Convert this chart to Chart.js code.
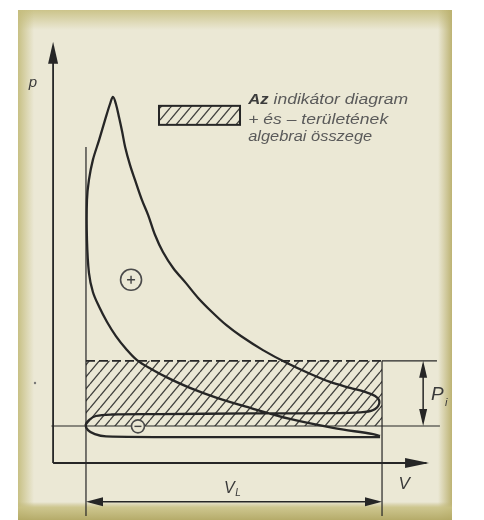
<!DOCTYPE html>
<html>
<head>
<meta charset="utf-8">
<script src="https://cdn.jsdelivr.net/npm/chart.js@4.4.1/dist/chart.umd.min.js"></script>
<style>
    html, body { margin: 0; padding: 0; background: #fff; overflow: hidden; }
</style>
</head>
<body>
<canvas id="pv-chart" width="484" height="520"></canvas>
<script>
// indicator diagram, V in % of cylinder volume (TDC = 10, BDC = 100), p in bar
// cycle order: compression -> peak -> expansion -> exhaust -> intake
const cycleV = [99.4, 97.3, 85.1, 72.0, 59.9, 49.8, 41.6, 34.9, 29.8, 25.5, 22.2, 19.1, 16.4, 14.0, 12.1, 10.9,
    10.3, 10.3, 10.9, 12.1, 14.0, 15.8, 17.3, 18.2,
    19.1, 20.1, 21.0, 21.9, 23.4, 24.9, 27.0, 28.9, 31.0, 33.4, 36.5, 40.4, 44.1, 48.3, 52.6, 57.1,
    63.8, 71.1, 78.1, 84.2, 90.3, 94.8, 97.9, 99.2, 97.9, 94.8, 87.2,
    59.9, 32.5, 17.9, 13.0, 10.9, 9.9, 10.6, 12.7, 16.1,
    44.7, 75.1, 99.4];
const cycleP = [0.73, 0.78, 0.95, 1.19, 1.49, 1.76, 2.03, 2.30, 2.54, 2.78, 3.08, 3.43, 3.81, 4.22, 4.62, 5.14,
    6.03, 7.11, 7.65, 8.19, 8.73, 9.27, 9.70, 9.89,
    9.70, 9.32, 8.95, 8.54, 8.05, 7.65, 7.11, 6.70, 6.16, 5.70, 5.27, 4.86, 4.46, 4.08, 3.73, 3.43,
    3.05, 2.70, 2.41, 2.19, 2.03, 1.92, 1.81, 1.65, 1.46, 1.38, 1.35,
    1.34, 1.32, 1.31, 1.27, 1.16, 1.03, 0.89, 0.78, 0.72,
    0.70, 0.70, 0.70];

const vTdc = 10;
const vBdc = 100;
const pAtm = 1.0;
const pMean = 2.76;

const signV = [23.7, 25.8];
const signP = [4.95, 0.99];
const signStyle = ['cross', 'line'];

const legendLines = ['Az indikátor diagram', '+ és – területének', 'algebrai összege'];
const legendWidths = [160, 140, 124];

const ink = '#262626';
const paper = '#ebe8d5';

function hatchPattern(w, h, color) {
    const c = document.createElement('canvas');
    c.width = w; c.height = h;
    const g = c.getContext('2d');
    g.strokeStyle = color;
    g.lineWidth = 1.3;
    g.beginPath();
    [-w, 0, w].forEach(off => {
        g.moveTo(off, h);
        g.lineTo(off + w, 0);
    });
    g.stroke();
    return g.createPattern(c, 'repeat');
}
const hatch = hatchPattern(10, 12, 'rgba(35,35,35,0.85)');

function arrowHead(ctx, x, y, dx, dy, len, half) {
    const bx = x - dx * len, by = y - dy * len;
    ctx.beginPath();
    ctx.moveTo(x, y);
    ctx.lineTo(bx - dy * half, by + dx * half);
    ctx.lineTo(bx + dy * half, by - dx * half);
    ctx.closePath();
    ctx.fill();
}

function seg(ctx, x1, y1, x2, y2) {
    ctx.beginPath();
    ctx.moveTo(x1, y1);
    ctx.lineTo(x2, y2);
    ctx.stroke();
}

// draw text squeezed/stretched to a given width
function fitText(ctx, txt, x, y, width) {
    const w = ctx.measureText(txt).width;
    ctx.save();
    ctx.translate(x, y);
    ctx.scale(width / w, 1);
    ctx.fillText(txt, 0, 0);
    ctx.restore();
}

const framePlugin = {
    id: 'frame',
    beforeDraw(chart) {
        const ctx = chart.ctx;
        const L = 18, T = 10, R = 452, B = 520;
        ctx.save();
        ctx.fillStyle = '#fff';
        ctx.fillRect(0, 0, chart.width, chart.height);
        ctx.fillStyle = paper;
        ctx.fillRect(L, T, R - L, B - T);

        let g = ctx.createLinearGradient(0, T, 0, T + 20);
        g.addColorStop(0, 'rgba(200,192,130,0.9)');
        g.addColorStop(1, 'rgba(200,192,130,0)');
        ctx.fillStyle = g;
        ctx.fillRect(L, T, R - L, 20);

        g = ctx.createLinearGradient(L, 0, L + 16, 0);
        g.addColorStop(0, 'rgba(196,188,124,0.9)');
        g.addColorStop(1, 'rgba(196,188,124,0)');
        ctx.fillStyle = g;
        ctx.fillRect(L, T, 16, B - T);

        g = ctx.createLinearGradient(R, 0, R - 14, 0);
        g.addColorStop(0, 'rgba(186,176,110,0.95)');
        g.addColorStop(1, 'rgba(186,176,110,0)');
        ctx.fillStyle = g;
        ctx.fillRect(R - 14, T, 14, B - T);

        g = ctx.createLinearGradient(0, B - 18, 0, B);
        g.addColorStop(0, 'rgba(190,180,115,0)');
        g.addColorStop(0.3, 'rgba(200,192,130,0.85)');
        g.addColorStop(1, 'rgba(178,168,100,0.95)');
        ctx.fillStyle = g;
        ctx.fillRect(L, B - 18, R - L, 18);
        ctx.restore();
    },
    afterDatasetsDraw(chart) {
        const ctx = chart.ctx;
        const X = v => chart.scales.x.getPixelForValue(v);
        const Y = p => chart.scales.y.getPixelForValue(p);
        ctx.save();
        ctx.strokeStyle = ink;
        ctx.fillStyle = ink;

        // axes with arrows
        ctx.lineWidth = 1.8;
        seg(ctx, X(0), Y(0), X(0), Y(11.2));
        arrowHead(ctx, X(0), Y(11.38), 0, -1, 22, 5);
        seg(ctx, X(0), Y(0), X(113.5), Y(0));
        arrowHead(ctx, X(114.3), Y(0), 1, 0, 24, 5);

        // V_L dimension
        ctx.lineWidth = 1.5;
        const yL = Y(-1.05);
        seg(ctx, X(vTdc) + 4, yL, X(vBdc) - 4, yL);
        arrowHead(ctx, X(vTdc), yL, -1, 0, 17, 4.5);
        arrowHead(ctx, X(vBdc), yL, 1, 0, 17, 4.5);

        // p_i dimension
        const xI = X(112.5);
        seg(ctx, xI, Y(pMean) + 4, xI, Y(pAtm) - 4);
        arrowHead(ctx, xI, Y(pMean), 0, -1, 17, 4);
        arrowHead(ctx, xI, Y(pAtm), 0, 1, 17, 4);

        // labels
        ctx.fillStyle = '#3a3a3a';
        ctx.textAlign = 'center';
        ctx.textBaseline = 'middle';
        ctx.font = 'italic 15px "Liberation Sans", sans-serif';
        ctx.fillText('p', X(-6.1), Y(10.27));
        ctx.font = 'italic 17px "Liberation Sans", sans-serif';
        ctx.fillText('V', X(106.7), Y(-0.57));
        ctx.font = 'italic 16px "Liberation Sans", sans-serif';
        ctx.fillText('V', X(53.6), Y(-0.68));
        ctx.font = 'italic 10px "Liberation Sans", sans-serif';
        ctx.fillText('L', X(56.2), Y(-0.82));
        ctx.font = 'italic 19px "Liberation Sans", sans-serif';
        ctx.fillText('P', X(116.8), Y(1.84));
        ctx.font = 'italic 11px "Liberation Sans", sans-serif';
        ctx.fillText('i', X(119.5), Y(1.62));

        // stray dot on the scan
        ctx.fillStyle = '#777';
        ctx.beginPath();
        ctx.arc(X(-5.5), Y(2.16), 1.2, 0, Math.PI * 2);
        ctx.fill();

        // legend box
        const bx = X(32.2), by = Y(9.65), bw = 81, bh = 19;
        ctx.fillStyle = hatch;
        ctx.fillRect(bx, by, bw, bh);
        ctx.lineWidth = 2;
        ctx.strokeStyle = ink;
        ctx.strokeRect(bx, by, bw, bh);

        ctx.textAlign = 'left';
        const tx = X(59.3);
        const lineY = [Y(9.81), Y(9.27), Y(8.81)];
        const font = 'italic 14px "Liberation Sans", sans-serif';
        legendLines.forEach((txt, i) => {
            ctx.font = font;
            ctx.fillStyle = '#5a5a5a';
            if (i === 0) {
                const full = ctx.measureText(txt).width;
                const k = legendWidths[0] / full;
                const rest = txt.slice(3);
                const restW = ctx.measureText(rest).width * k;
                ctx.fillStyle = '#3c3c3c';
                ctx.font = 'italic bold 14px "Liberation Sans", sans-serif';
                fitText(ctx, 'Az', tx, lineY[i], legendWidths[0] - restW - 5);
                ctx.font = font;
                ctx.fillStyle = '#5a5a5a';
                fitText(ctx, rest, tx + legendWidths[0] - restW, lineY[i], restW);
            } else {
                fitText(ctx, txt, tx, lineY[i], legendWidths[i]);
            }
        });
        ctx.restore();
    }
};

const cycleData = cycleV.map((v, i) => ({x: v, y: cycleP[i]}));
const signData = signV.map((v, i) => ({x: v, y: signP[i]}));

const config = {
    type: 'line',
    data: {
        datasets: [{
            label: 'signs',
            data: signData,
            showLine: false,
            pointStyle: signStyle,
            pointRadius: [4, 3.5],
            pointBorderWidth: 1.4,
            pointBorderColor: '#444',
            pointBackgroundColor: '#444'
        }, {
            label: 'rings',
            data: signData,
            showLine: false,
            pointStyle: 'circle',
            pointRadius: [10.5, 6.5],
            pointBorderWidth: 1.6,
            pointBorderColor: '#4a4a4a',
            pointBackgroundColor: paper
        }, {
            label: 'cycle',
            data: cycleData,
            borderColor: ink,
            borderWidth: 2.3,
            tension: 0.35,
            pointRadius: 0,
            fill: false
        }, {
            label: 'mean pressure',
            data: [{x: vTdc, y: pMean}, {x: vBdc, y: pMean}],
            borderColor: ink,
            borderWidth: 1.9,
            borderDash: [9, 4],
            pointRadius: 0,
            fill: {value: pAtm},
            backgroundColor: hatch
        }, {
            label: 'mean pressure ext',
            data: [{x: vBdc, y: pMean}, {x: 116.7, y: pMean}],
            borderColor: ink,
            borderWidth: 1.2,
            pointRadius: 0
        }, {
            label: 'atmospheric',
            data: [{x: -0.5, y: pAtm}, {x: 117.6, y: pAtm}],
            borderColor: ink,
            borderWidth: 1.2,
            pointRadius: 0
        }, {
            label: 'TDC',
            data: [{x: vTdc, y: 8.54}, {x: vTdc, y: -1.43}],
            borderColor: ink,
            borderWidth: 1.2,
            pointRadius: 0
        }, {
            label: 'BDC',
            data: [{x: vBdc, y: pMean}, {x: vBdc, y: -1.43}],
            borderColor: ink,
            borderWidth: 1.2,
            pointRadius: 0
        }]
    },
    options: {
        responsive: false,
        animation: false,
        events: [],
        layout: {padding: 0, autoPadding: false},
        plugins: {legend: {display: false}, tooltip: {enabled: false}},
        scales: {
            x: {type: 'linear', display: false, min: -16.14, max: 131.0},
            y: {type: 'linear', display: false, min: -1.54, max: 12.51}
        }
    },
    plugins: [framePlugin]
};

const pvChart = new Chart(document.getElementById('pv-chart'), config);
</script>
</body>
</html>
